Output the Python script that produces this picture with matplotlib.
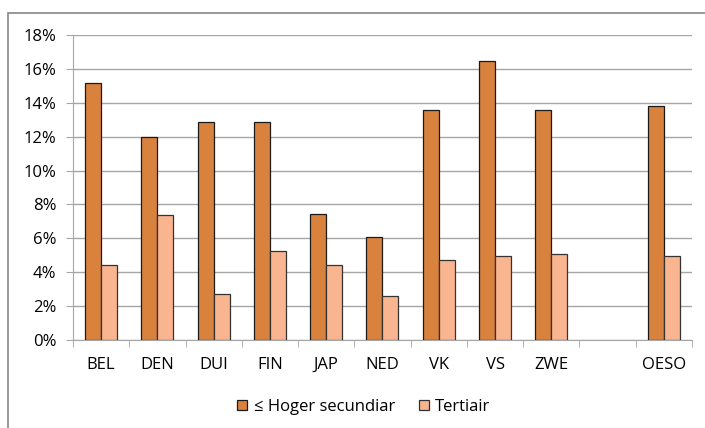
import numpy as np
import matplotlib.pyplot as plt
from matplotlib.patches import Rectangle
from matplotlib.ticker import FuncFormatter, FixedLocator

# Data (percent)
landen = ["BEL", "DEN", "DUI", "FIN", "JAP", "NED", "VK", "VS", "ZWE", "", "OESO"]
hoger_secundair = [15.2, 12.0, 12.85, 12.85, 7.45, 6.1, 13.6, 16.5, 13.6, np.nan, 13.8]
tertiair = [4.4, 7.4, 2.7, 5.25, 4.45, 2.6, 4.75, 4.95, 5.05, np.nan, 4.95]

DARK = "#D9823D"
LIGHT = "#F9B490"
GRID = "#A6A6A6"

plt.rcParams["font.family"] = ["Open Sans", "DejaVu Sans"]

fig = plt.figure(figsize=(7.05, 4.28), dpi=100, facecolor="white")
ax = fig.add_axes([0.1035, 0.2056, 0.878, 0.7124])

# outer chart border
fig.patches.append(Rectangle((8 / 705, -0.1), 1.2, 1 - 13 / 428 + 0.1,
                             transform=fig.transFigure, fill=False,
                             edgecolor="#868686", lw=1.2))

x = np.arange(len(landen))
w = 0.284
ax.bar(x - w / 2, hoger_secundair, w, color=DARK, edgecolor="#1a1a1a", lw=0.9,
       label="≤ Hoger secundiar", zorder=3)
ax.bar(x + w / 2, tertiair, w, color=LIGHT, edgecolor="#333333", lw=0.9,
       label="Tertiair", zorder=3)

ax.set_xlim(-0.5, len(landen) - 0.5)
ax.set_ylim(0, 18)
ax.set_yticks(np.arange(0, 19, 2))
ax.yaxis.set_major_formatter(FuncFormatter(lambda v, p: f"{v:.0f}%"))
ax.grid(axis="y", color=GRID, lw=1.0, zorder=0)

ax.set_xticks(x)
ax.set_xticklabels(landen)
ax.xaxis.set_minor_locator(FixedLocator(np.arange(-0.5, len(landen), 1)))
ax.tick_params(axis="x", which="major", length=0, pad=12, labelsize=12)
ax.tick_params(axis="x", which="minor", length=5, color=GRID, direction="out")
ax.tick_params(axis="y", length=5, color=GRID, labelsize=12, pad=7)

for s in ["top", "right"]:
    ax.spines[s].set_visible(False)
for s in ["left", "bottom"]:
    ax.spines[s].set_color(GRID)

ax.legend(loc="center", bbox_to_anchor=(0.47, -0.22), ncol=2, frameon=False,
          fontsize=12, handlelength=0.6, handleheight=0.6, handletextpad=0.4,
          columnspacing=1.4)

fig.savefig("out.png", dpi=100)
